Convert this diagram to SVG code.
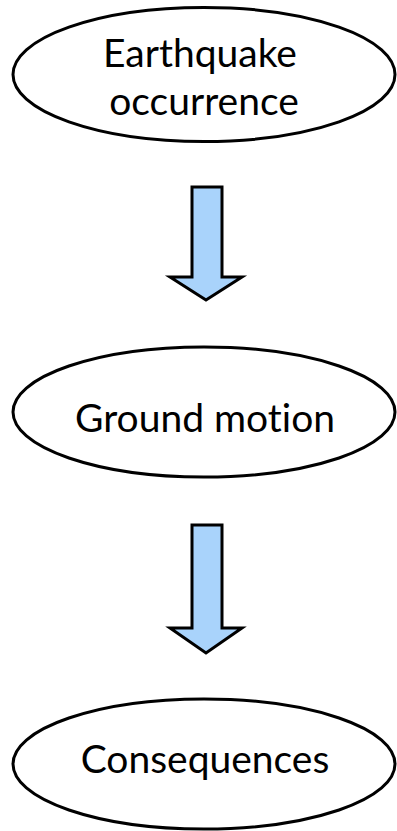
<svg xmlns="http://www.w3.org/2000/svg" width="397" height="831" viewBox="0 0 397 831">
  <style>
    .node ellipse { fill: #ffffff; stroke: #000000; stroke-width: 3; }
    .node text { font-family: "Lato", "Open Sans", "Liberation Sans", sans-serif; font-size: 39px; fill: #000000; text-anchor: middle; font-variant-ligatures: none; }
    .arrow { fill: #a9d3fb; stroke: #000000; stroke-width: 3; stroke-linejoin: miter; }
  </style>
  <rect width="397" height="831" fill="#ffffff"/>

  <g id="node-earthquake" class="node">
    <ellipse cx="204" cy="74.5" rx="191" ry="67"/>
    <text x="200" y="67">Earthquake</text>
    <text x="204" y="115">occurrence</text>
  </g>

  <g id="node-ground-motion" class="node">
    <ellipse cx="204" cy="412" rx="191" ry="65"/>
    <text x="205" y="432">Ground motion</text>
  </g>

  <g id="node-consequences" class="node">
    <ellipse cx="204" cy="764" rx="191" ry="65"/>
    <text x="205" y="773">Consequences</text>
  </g>

  <g id="connectors">
    <path class="arrow" d="M192,187 H222 V277 H242 L206,300 L170,277 H192 Z"/>
    <path class="arrow" d="M192,525 H222 V628 H242 L206,653 L170,628 H192 Z"/>
  </g>
</svg>
